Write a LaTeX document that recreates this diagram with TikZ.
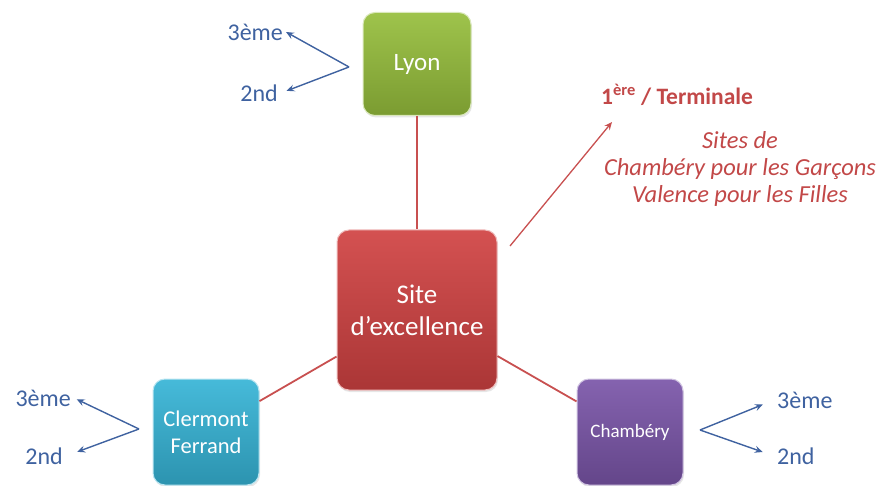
\documentclass[tikz,border=0pt]{standalone}
\usepackage{fontspec}
\setmainfont{Carlito}
\usetikzlibrary{arrows.meta, shadows, positioning}
\definecolor{lyongreen}{HTML}{96BE3C}
\definecolor{sitered}{HTML}{D04242}
\definecolor{clermontaqua}{HTML}{36B4D6}
\definecolor{chamberypurple}{HTML}{7A55A8}
\definecolor{levelblue}{HTML}{3F62A0}
\definecolor{notered}{HTML}{C24848}
\definecolor{linered}{HTML}{C85050}

\tikzset{
  cityblock/.style={draw=white!65!#1, line width=1pt, rounded corners=12pt,
    top color=#1!92!white, bottom color=#1!82!black, text=white, align=center,
    inner sep=2pt, drop shadow={opacity=0.2, shadow xshift=1pt, shadow yshift=-2pt}},
  levellabel/.style={text=levelblue, font=\fontsize{24}{28}\selectfont, inner sep=3pt},
  levelarrow/.style={draw=levelblue, line width=1.4pt, -{Stealth[length=8pt, width=7pt, inset=3pt]}},
  redline/.style={draw=linered, line width=1.8pt},
  redarrow/.style={draw=linered, line width=1.3pt, -{Stealth[length=8pt, width=7pt, inset=3pt]}},
  notetext/.style={text=notered, align=center, inner sep=0pt}
}

\begin{document}
\begin{tikzpicture}[x=1pt, y=-1pt]
  \useasboundingbox (0,0) rectangle (878,486);

  \node[cityblock=sitered, minimum width=160pt, minimum height=160pt, font=\fontsize{27}{32}\selectfont] (Site) at (417,310) {Site\\d’excellence};
  \node[cityblock=lyongreen, minimum width=108pt, minimum height=103pt, font=\fontsize{25}{29}\selectfont] (Lyon) at (417,64) {Lyon};
  \node[cityblock=clermontaqua, minimum width=106pt, minimum height=106pt, font=\fontsize{22.5}{27}\selectfont] (Clermont) at (206,432) {Clermont\\Ferrand};
  \node[cityblock=chamberypurple, minimum width=106pt, minimum height=106pt, font=\fontsize{19}{22}\selectfont] (Chambery) at (630,432) {Chambéry};

  \draw[redline] (Lyon) -- (Site);
  \draw[redline] (Site) -- (Clermont);
  \draw[redline] (Site) -- (Chambery);

  \coordinate (LyonFork) at (349,67);
  \node[levellabel, anchor=east] (LyonTrois) at (286,32) {3ème};
  \node[levellabel, anchor=east] (LyonSeconde) at (281,93) {2nd};
  \draw[levelarrow] (LyonFork) -- (LyonTrois.east);
  \draw[levelarrow, shorten >=6pt] (LyonFork) -- (LyonSeconde.east);

  \coordinate (ClermontFork) at (139,429);
  \node[levellabel, anchor=east] (ClermontTrois) at (74,398) {3ème};
  \node[levellabel, anchor=east] (ClermontSeconde) at (66,456) {2nd};
  \draw[levelarrow, shorten >=3pt] (ClermontFork) -- (ClermontTrois.east);
  \draw[levelarrow, shorten >=12pt] (ClermontFork) -- (ClermontSeconde.east);

  \coordinate (ChamberyFork) at (700,430);
  \node[levellabel, anchor=west] (ChamberyTrois) at (774,400) {3ème};
  \node[levellabel, anchor=west] (ChamberySeconde) at (774,456) {2nd};
  \draw[levelarrow, shorten >=12pt] (ChamberyFork) -- (ChamberyTrois.west);
  \draw[levelarrow, shorten >=12pt] (ChamberyFork) -- (ChamberySeconde.west);

  \node[notetext, anchor=west, font=\bfseries\fontsize{23.5}{27}\selectfont] (Terminale) at (601,95) {1\textsuperscript{ère} / Terminale};
  \node[notetext, font=\itshape\fontsize{24.5}{27}\selectfont] (Sites) at (740,169) {Sites de\\Chambéry  pour les Garçons\\Valence pour les Filles};
  \coordinate (SiteCorner) at (510,246);
  \coordinate (TerminaleTip) at (612,122);
  \draw[redarrow] (SiteCorner) -- (TerminaleTip);
\end{tikzpicture}
\end{document}
